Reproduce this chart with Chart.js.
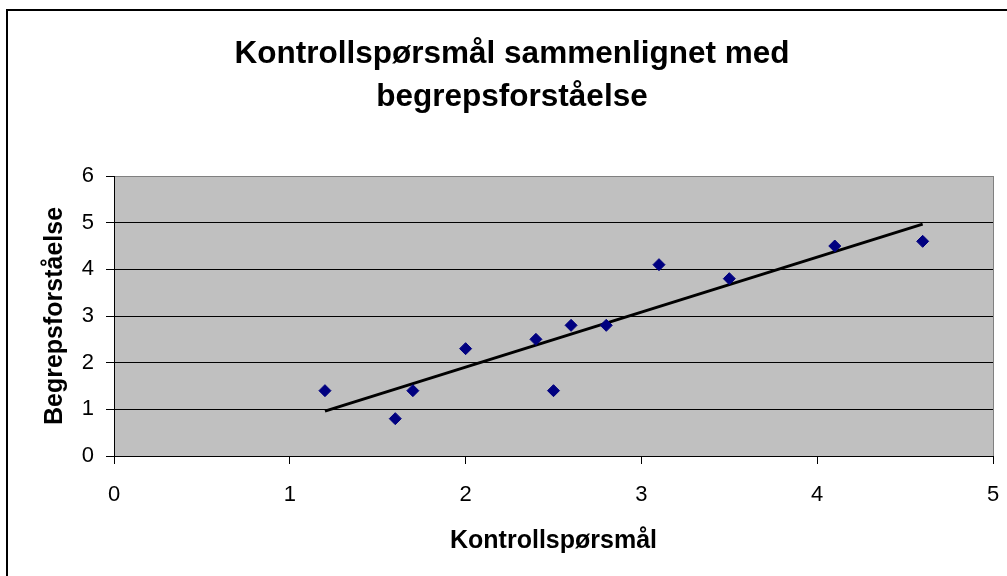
<!DOCTYPE html>
<html>
<head>
<meta charset="utf-8">
<script src="https://cdn.jsdelivr.net/npm/chart.js@4.4.1/dist/chart.umd.min.js"></script>
<style>
  html, body { margin: 0; padding: 0; background: #ffffff; }
  #wrap { position: relative; width: 1007px; height: 576px; }
</style>
</head>
<body>
<div id="wrap"><canvas id="c" width="1007" height="576"></canvas></div>
<script>
const titleLines = ['Kontrollspørsmål sammenlignet med', 'begrepsforståelse'];
const xAxisTitle = 'Kontrollspørsmål';
const yAxisTitle = 'Begrepsforståelse';
const kontrollsporsmal = [1.2, 1.6, 1.7, 2.0, 2.4, 2.5, 2.6, 2.8, 3.1, 3.5, 4.1, 4.6];
const begrepsforstaelse = [1.4, 0.8, 1.4, 2.3, 2.5, 1.4, 2.8, 2.8, 4.1, 3.8, 4.5, 4.6];
const xTicks = [0, 1, 2, 3, 4, 5];
const yTicks = [0, 1, 2, 3, 4, 5, 6];

const points = kontrollsporsmal.map((x, i) => ({ x: x, y: begrepsforstaelse[i] }));

// Linear trendline (least squares) from the data
const n = kontrollsporsmal.length;
const mx = kontrollsporsmal.reduce((a, b) => a + b, 0) / n;
const my = begrepsforstaelse.reduce((a, b) => a + b, 0) / n;
let sxy = 0, sxx = 0;
for (let i = 0; i < n; i++) {
  sxy += (kontrollsporsmal[i] - mx) * (begrepsforstaelse[i] - my);
  sxx += (kontrollsporsmal[i] - mx) * (kontrollsporsmal[i] - mx);
}
const slope = sxy / sxx;
const intercept = my - slope * mx;
const xMin = Math.min(...kontrollsporsmal);
const xMax = Math.max(...kontrollsporsmal);
const trend = [
  { x: xMin, y: intercept + slope * xMin },
  { x: xMax, y: intercept + slope * xMax }
];

const FONT = "'Liberation Sans', Arial, Helvetica, sans-serif";

const decor = {
  id: 'decor',
  beforeDraw(chart) {
    const { ctx, chartArea: a } = chart;
    ctx.save();
    ctx.fillStyle = '#C0C0C0';
    ctx.fillRect(a.left, a.top, a.right - a.left, a.bottom - a.top);
    ctx.restore();
  },
  afterDraw(chart) {
    const ctx = chart.ctx;
    ctx.save();
    ctx.strokeStyle = '#000000';
    ctx.lineWidth = 2;
    ctx.strokeRect(7, 10, 1010, 580);
    ctx.restore();
  }
};

new Chart(document.getElementById('c'), {
  type: 'scatter',
  data: {
    datasets: [
      {
        label: 'Data',
        data: points,
        pointStyle: 'rectRot',
        pointRadius: 6,
        pointHoverRadius: 6,
        backgroundColor: '#000080',
        borderColor: '#000080',
        borderWidth: 1,
        order: 1
      },
      {
        label: 'Trend',
        type: 'line',
        data: trend,
        borderColor: '#000000',
        borderWidth: 3,
        pointRadius: 0,
        fill: false,
        order: 2
      }
    ]
  },
  options: {
    responsive: false,
    animation: false,
    layout: { padding: { left: 17, top: 0, right: 0, bottom: 0 } },
    plugins: {
      legend: { display: false },
      tooltip: { enabled: false },
      title: {
        display: true,
        text: titleLines,
        color: '#000000',
        font: { family: FONT, size: 31.5, weight: 'bold', lineHeight: 43 / 31.5 },
        padding: { top: 33, bottom: 57 }
      }
    },
    scales: {
      x: {
        type: 'linear',
        min: 0,
        max: 5,
        afterFit(scale) {
          scale.height = 120;
          scale.paddingLeft = 0;
          scale.paddingRight = 14;
        },
        afterBuildTicks(scale) { scale.ticks = xTicks.map(v => ({ value: v })); },
        ticks: {
          color: '#000000',
          font: { family: FONT, size: 22 },
          padding: 18,
          maxRotation: 0
        },
        grid: {
          drawOnChartArea: true,
          color: ctx => (ctx.tick && ctx.tick.value === 5) ? '#808080' : 'rgba(0,0,0,0)',
          tickColor: '#000000',
          tickLength: 8,
          lineWidth: 1
        },
        border: { display: true, color: '#000000', width: 1 },
        title: {
          display: true,
          text: xAxisTitle,
          color: '#000000',
          font: { family: FONT, size: 25, weight: 'bold' },
          padding: { top: 0, bottom: 20 }
        }
      },
      y: {
        type: 'linear',
        min: 0,
        max: 6,
        afterFit(scale) { scale.width = 97; },
        afterBuildTicks(scale) { scale.ticks = yTicks.map(v => ({ value: v })); },
        ticks: {
          color: '#000000',
          font: { family: FONT, size: 22 },
          padding: 12
        },
        grid: {
          color: ctx => (ctx.tick && ctx.tick.value === 6) ? '#808080' : '#000000',
          tickColor: '#000000',
          tickLength: 8,
          lineWidth: 1
        },
        border: { display: true, color: '#000000', width: 1 },
        title: {
          display: true,
          text: yAxisTitle,
          color: '#000000',
          font: { family: FONT, size: 25, weight: 'bold' },
          padding: { top: 23, bottom: 0 }
        }
      }
    }
  },
  plugins: [decor]
});
</script>
</body>
</html>
